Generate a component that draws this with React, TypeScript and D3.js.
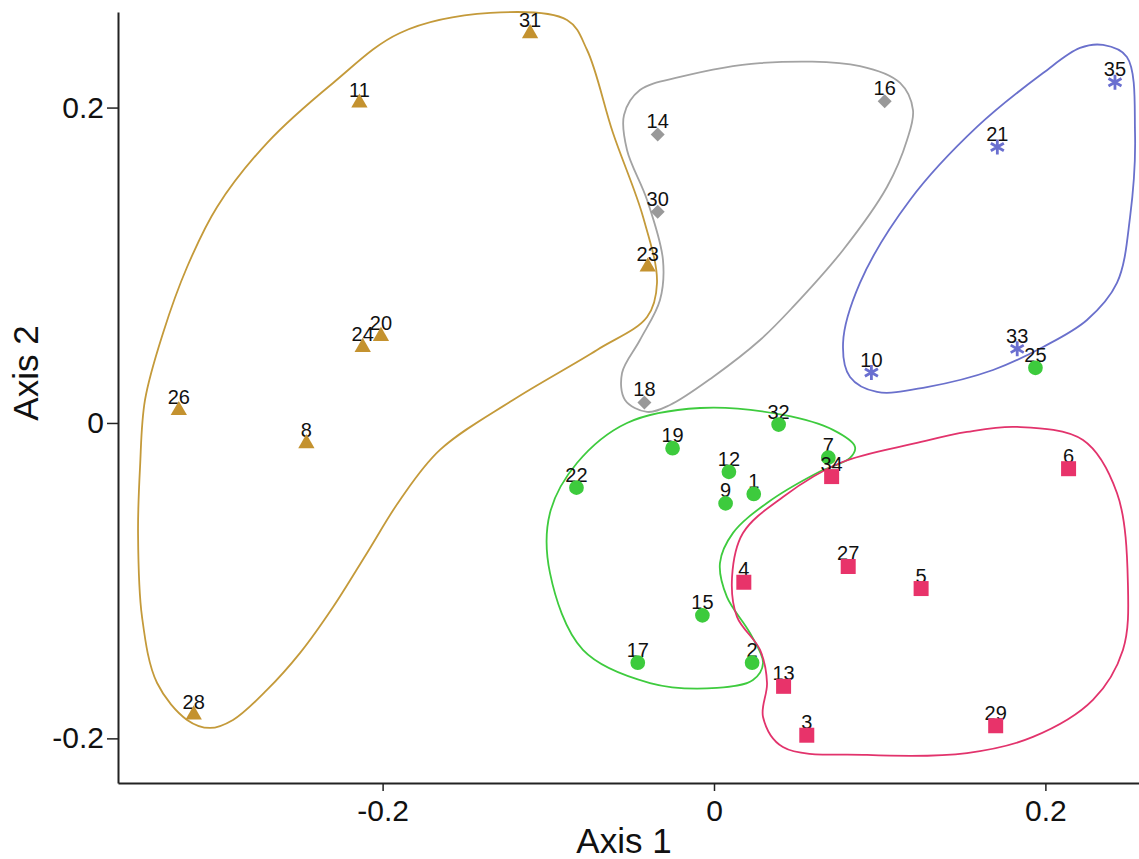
import React, { useRef, useEffect } from 'react';
import * as d3 from 'd3';

// ordination scores: [label, axis1, axis2]
const goldPts: [string, number, number][] = [
  ['31', -0.111, 0.247], ['11', -0.214, 0.203], ['23', -0.04, 0.099], ['24', -0.212, 0.048],
  ['20', -0.201, 0.055], ['26', -0.323, 0.008], ['8', -0.246, -0.013], ['28', -0.314, -0.185],
];
const greyPts: [string, number, number][] = [
  ['14', -0.034, 0.183], ['30', -0.034, 0.134], ['18', -0.042, 0.013], ['16', 0.103, 0.204],
];
const bluePts: [string, number, number][] = [
  ['35', 0.242, 0.216], ['21', 0.171, 0.175], ['33', 0.183, 0.047], ['10', 0.095, 0.032],
];
const greenPts: [string, number, number][] = [
  ['25', 0.194, 0.035], ['32', 0.039, -0.001], ['19', -0.025, -0.016], ['12', 0.009, -0.031],
  ['22', -0.083, -0.041], ['1', 0.024, -0.045], ['9', 0.007, -0.051], ['7', 0.069, -0.022],
  ['15', -0.007, -0.122], ['17', -0.046, -0.152], ['2', 0.023, -0.152],
];
const redPts: [string, number, number][] = [
  ['34', 0.071, -0.034], ['6', 0.214, -0.029], ['27', 0.081, -0.091], ['5', 0.125, -0.105],
  ['4', 0.018, -0.101], ['13', 0.042, -0.167], ['3', 0.056, -0.198], ['29', 0.17, -0.192],
];

// hand-drawn group outlines, in axis units
const goldHull: [number, number][] = [
  [-0.135, 0.26], [-0.0887, 0.2555], [-0.0766, 0.2365], [-0.061, 0.184], [-0.0428, 0.1306],
  [-0.0344, 0.0888], [-0.0404, 0.0672], [-0.0706, 0.0463], [-0.1213, 0.0146], [-0.1654, -0.0171],
  [-0.1895, -0.0488], [-0.2094, -0.0824], [-0.2299, -0.1167], [-0.2498, -0.1458], [-0.2698, -0.1693],
  [-0.2903, -0.1883], [-0.3042, -0.1934], [-0.318, -0.1883], [-0.3361, -0.1649], [-0.3452, -0.123],
  [-0.3476, -0.0697], [-0.3464, -0.0279], [-0.3434, 0.0146], [-0.3325, 0.0571], [-0.318, 0.0989],
  [-0.2999, 0.137], [-0.2698, 0.1775], [-0.2299, 0.2156], [-0.1895, 0.2473],
];
const greyHull: [number, number][] = [
  [-0.0447, 0.2111], [-0.0205, 0.2194], [0.0278, 0.2282], [0.0881, 0.2263], [0.1123, 0.2156],
  [0.1201, 0.1984], [0.1165, 0.1794], [0.1044, 0.1496], [0.0779, 0.1097], [0.0477, 0.0736],
  [0.0278, 0.0526], [-0.0006, 0.0292], [-0.0266, 0.0114], [-0.0404, 0.007], [-0.0537, 0.0146],
  [-0.0555, 0.0317], [-0.0447, 0.0526], [-0.0326, 0.078], [-0.0308, 0.1034], [-0.0404, 0.1414],
  [-0.0525, 0.1731], [-0.0543, 0.1953],
];
const blueHull: [number, number][] = [
  [0.2348, 0.2397], [0.2492, 0.2321], [0.2541, 0.1839], [0.2511, 0.1306], [0.2432, 0.0888],
  [0.2251, 0.0653], [0.1986, 0.0482], [0.1684, 0.0336], [0.1285, 0.0228], [0.0984, 0.0197],
  [0.0821, 0.0292], [0.0779, 0.0507], [0.0881, 0.0888], [0.1183, 0.1414], [0.1587, 0.1877],
  [0.1986, 0.2219], [0.2209, 0.2378],
];
const greenHull: [number, number][] = [
  [-0.0084, 0.0095], [0.0416, 0.0051], [0.0718, -0.0044], [0.0851, -0.0152], [0.0821, -0.0222],
  [0.0622, -0.0317], [0.032, -0.0507], [0.0115, -0.0697], [0.0036, -0.0888], [0.0078, -0.1103],
  [0.0217, -0.1332], [0.0296, -0.1522], [0.0235, -0.163], [0.0018, -0.168], [-0.0386, -0.1649],
  [-0.0791, -0.1439], [-0.099, -0.0951], [-0.099, -0.0571], [-0.0827, -0.0254], [-0.0525, 0],
];
const redHull: [number, number][] = [
  [0.1829, -0.0025], [0.2227, -0.0108], [0.2432, -0.0444], [0.2498, -0.1015], [0.2468, -0.1439],
  [0.2287, -0.1756], [0.1925, -0.1991], [0.1527, -0.2093], [0.0923, -0.2105], [0.0416, -0.2055],
  [0.0296, -0.1864], [0.032, -0.1649], [0.0278, -0.1439], [0.0139, -0.123], [0.0109, -0.0977],
  [0.0175, -0.0698], [0.0416, -0.0469], [0.076, -0.0254], [0.1225, -0.0127], [0.1527, -0.0057],
];

const xTicks = [-0.2, 0, 0.2];
const yTicks = [-0.2, 0, 0.2];

const W = 1139;
const H = 859;
const FONT = 'Liberation Sans, Arial, Helvetica, sans-serif';

// plain hyphen for negatives, like the original
const fmt = (d: number) => (d === 0 ? '0' : d.toFixed(1));

const App = () => {
  const svgRef = useRef<SVGSVGElement>(null);

  useEffect(() => {
    const svg = d3.select(svgRef.current);
    svg.selectAll('*').remove();

    const x = d3.scaleLinear().domain([-0.3597, 0.2565]).range([118, 1139]);
    const y = d3.scaleLinear().domain([-0.2283, 0.2606]).range([783, 12]);

    const outline = d3
      .line<[number, number]>()
      .x((d) => x(d[0]))
      .y((d) => y(d[1]))
      .curve(d3.curveCatmullRomClosed.alpha(0.5));

    const hulls: [[number, number][], string][] = [
      [goldHull, '#c49a3a'],
      [greyHull, '#a3a3a3'],
      [blueHull, '#6a70cc'],
      [greenHull, '#3ecb3e'],
      [redHull, '#e2336c'],
    ];
    svg
      .selectAll('.hull')
      .data(hulls)
      .join('path')
      .attr('class', 'hull')
      .attr('d', (d) => outline(d[0]))
      .attr('fill', 'none')
      .attr('stroke', (d) => d[1])
      .attr('stroke-width', 1.8);

    // axes
    const xAxis = d3.axisBottom(x).tickValues(xTicks).tickSize(8).tickSizeOuter(0)
      .tickFormat((d) => fmt(d as number));
    const yAxis = d3.axisLeft(y).tickValues(yTicks).tickSize(11).tickSizeOuter(0)
      .tickFormat((d) => fmt(d as number));

    const gx = svg.append('g').attr('transform', 'translate(0,783)').call(xAxis);
    const gy = svg.append('g').attr('transform', 'translate(118,0)').call(yAxis);
    [gx, gy].forEach((g) => {
      g.select('.domain').attr('stroke', '#222').attr('stroke-width', 2);
      g.selectAll('.tick line').attr('stroke', '#222').attr('stroke-width', 1.5);
      g.selectAll('.tick text')
        .attr('font-family', FONT)
        .attr('font-size', 30)
        .attr('fill', '#111');
    });
    gx.selectAll('.tick text').attr('dy', '0.9em');
    gy.selectAll('.tick text').attr('x', -14);

    svg
      .append('text')
      .attr('x', 624)
      .attr('y', 853)
      .attr('text-anchor', 'middle')
      .attr('font-family', FONT)
      .attr('font-size', 35)
      .attr('fill', '#111')
      .text('Axis 1');
    svg
      .append('text')
      .attr('transform', 'translate(38,373) rotate(-90)')
      .attr('text-anchor', 'middle')
      .attr('font-family', FONT)
      .attr('font-size', 35)
      .attr('fill', '#111')
      .text('Axis 2');

    // markers
    const groups: [[string, number, number][], string, string][] = [
      [goldPts, '#c4922f', 'tri'],
      [greyPts, '#999999', 'diamond'],
      [bluePts, '#6a6fd0', 'star'],
      [greenPts, '#3dcb3d', 'circle'],
      [redPts, '#e8336a', 'square'],
    ];
    const shapes: Record<string, string> = {
      tri: d3.symbol(d3.symbolTriangle, 115)() as string,
      diamond: 'M0,-7L7,0L0,7L-7,0Z',
      circle: d3.symbol(d3.symbolCircle, 170)() as string,
      square: d3.symbol(d3.symbolSquare, 225)() as string,
    };
    const star = 'M0,-7.5L0,7.5M-6.5,-3.75L6.5,3.75M-6.5,3.75L6.5,-3.75';

    groups.forEach(([pts, color, kind]) => {
      const g = svg.append('g');
      g.selectAll('text')
        .data(pts)
        .join('text')
        .attr('x', (d) => x(d[1]))
        .attr('y', (d) => y(d[2]) - 6)
        .attr('text-anchor', 'middle')
        .attr('font-family', FONT)
        .attr('font-size', 20)
        .attr('fill', '#111')
        .text((d) => d[0]);
      g.selectAll('path')
        .data(pts)
        .join('path')
        .attr('transform', (d) => `translate(${x(d[1])},${y(d[2])})`)
        .attr('d', kind === 'star' ? star : shapes[kind])
        .attr('fill', kind === 'star' ? 'none' : color)
        .attr('stroke', kind === 'star' ? color : 'none')
        .attr('stroke-width', 2.8);
    });
  }, []);

  return (
    <svg
      ref={svgRef}
      width={W}
      height={H}
      style={{ position: 'absolute', left: 0, top: 0, background: '#fff' }}
    />
  );
};

export default App;
